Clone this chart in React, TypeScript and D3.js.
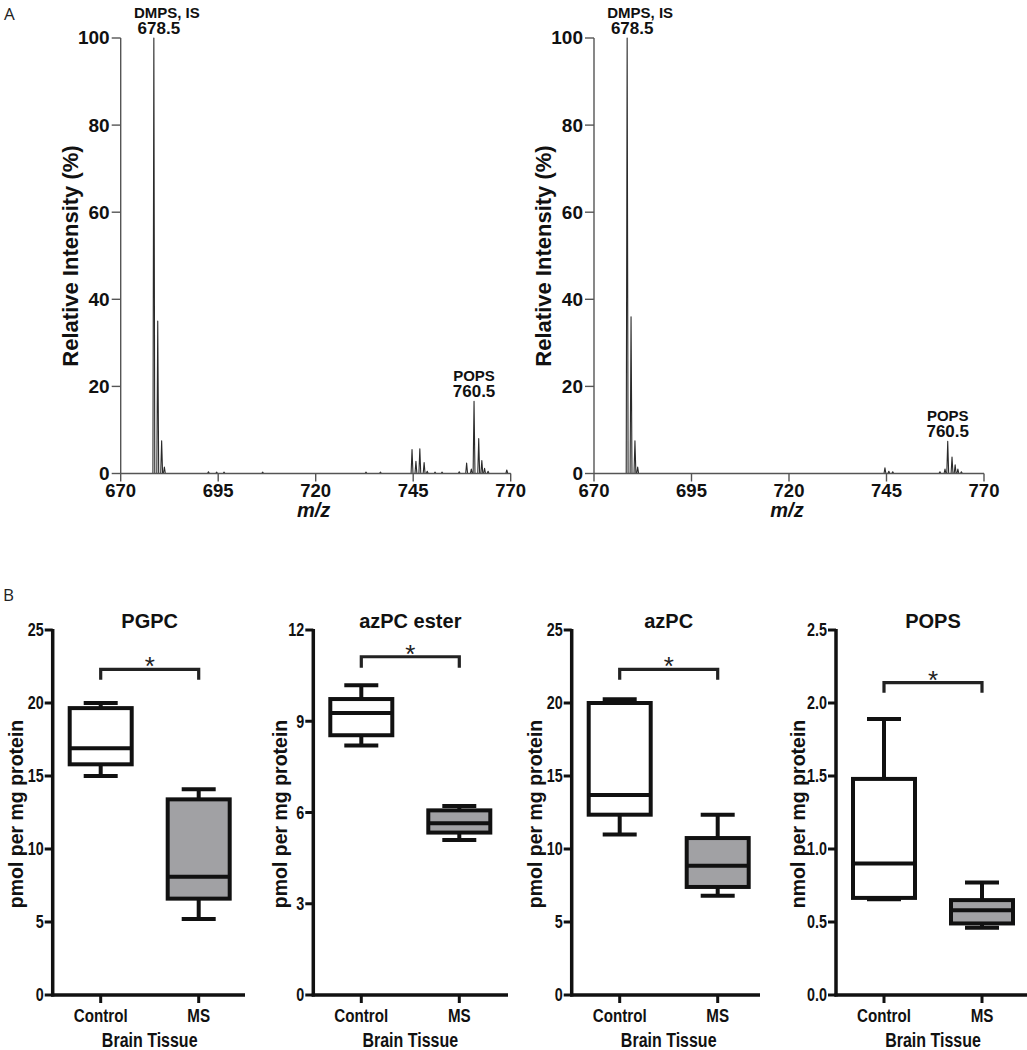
import React from "react";
import * as d3 from "d3";

// ---------- Panel A: mass spectra ----------
const specTicksX = [670, 695, 720, 745, 770];
const specTicksY = [0, 20, 40, 60, 80, 100];

// [m/z, relative intensity %]
const spectrumLeft: [number, number][] = [
  [678.5, 100], [679.5, 35], [680.5, 7.5], [681.2, 1.5],
  [692.5, 0.4], [694.6, 0.3], [696.5, 0.3], [706.4, 0.3],
  [732.9, 0.3], [736.6, 0.3],
  [744.7, 5.5], [745.7, 2.8], [746.7, 5.7], [747.8, 2.5], [748.6, 0.5],
  [750.6, 0.3], [752.4, 0.3], [756.8, 0.4],
  [758.7, 2.4], [759.9, 1], [760.6, 16.6], [761.8, 8], [762.6, 3], [763.3, 1.2], [764.2, 0.5],
  [769.0, 0.8],
];
const spectrumRight: [number, number][] = [
  [678.5, 100], [679.5, 36], [680.5, 7.5], [681.2, 1.5],
  [744.6, 1.3], [745.6, 0.5], [746.6, 0.4],
  [758.7, 0.4], [760.0, 1], [760.7, 7.4], [761.8, 3.8], [762.6, 2], [763.3, 1], [764.2, 0.4],
];
const peakLabelsLeft = [
  { mz: 678.5, name: "DMPS, IS", value: "678.5" },
  { mz: 760.6, name: "POPS", value: "760.5" },
];
const peakLabelsRight = [
  { mz: 678.5, name: "DMPS, IS", value: "678.5" },
  { mz: 760.7, name: "POPS", value: "760.5" },
];

// ---------- Panel B: box plots ----------
const groups = ["Control", "MS"];
const pgpcStats = [
  { min: 15.0, q1: 15.8, median: 16.9, q3: 19.65, max: 20.0 },
  { min: 5.2, q1: 6.6, median: 8.1, q3: 13.4, max: 14.1 },
];
const azpcEsterStats = [
  { min: 8.2, q1: 8.54, median: 9.27, q3: 9.73, max: 10.18 },
  { min: 5.1, q1: 5.34, median: 5.65, q3: 6.07, max: 6.21 },
];
const azpcStats = [
  { min: 11.0, q1: 12.35, median: 13.7, q3: 20.0, max: 20.25 },
  { min: 6.8, q1: 7.4, median: 8.85, q3: 10.75, max: 12.35 },
];
const popsStats = [
  { min: 0.655, q1: 0.665, median: 0.9, q3: 1.48, max: 1.89 },
  { min: 0.46, q1: 0.49, median: 0.58, q3: 0.65, max: 0.77 },
];
const panelTitles = ["PGPC", "azPC ester", "azPC", "POPS"];
const panelYMax = [25, 12, 25, 2.5];
const panelTicks = [
  [0, 5, 10, 15, 20, 25],
  [0, 3, 6, 9, 12],
  [0, 5, 10, 15, 20, 25],
  [0, 0.5, 1.0, 1.5, 2.0, 2.5],
];
const panelYLabels = ["pmol per mg protein", "pmol per mg protein", "pmol per mg protein", "nmol per mg protein"];
// significance bracket [top, leg end] in data units
const panelBrackets = [
  [22.3, 21.6],
  [11.12, 10.76],
  [22.3, 21.6],
  [2.14, 2.07],
];
const xAxisTitle = "Brain Tissue";

const SPEC_FONT = "'Liberation Sans', Arial, Helvetica, sans-serif";
const NARROW = 0.82;

function NText({ x, y, anchor, size, children, dy }: { x: number; y: number; anchor: string; size: number; children: React.ReactNode; dy?: string }) {
  return (
    <text
      transform={`translate(${x},${y}) scale(${NARROW},1)`}
      dy={dy}
      textAnchor={anchor}
      fontFamily={SPEC_FONT}
      fontWeight="bold"
      fontSize={size}
      fill="#111"
    >
      {children}
    </text>
  );
}

function Spectrum({ x0, x1, data, labels }: { x0: number; x1: number; data: [number, number][]; labels: { mz: number; name: string; value: string }[] }) {
  const x = d3.scaleLinear().domain([670, 770]).range([x0, x1]);
  const y = d3.scaleLinear().domain([0, 100]).range([473.5, 38]);
  const pts: [number, number][] = [[670, 0]];
  const w = 0.24;
  [...data].sort((a, b) => a[0] - b[0]).forEach(([mz, h]) => {
    pts.push([mz - w, 0], [mz, h], [mz + w, 0]);
  });
  pts.push([770, 0]);
  const line = d3.line<[number, number]>().x((d) => x(d[0])).y((d) => y(d[1]));
  const axisColor = "#555";
  return (
    <g>
      <path d={line(pts) || ""} fill="none" stroke="#2a2a2a" strokeWidth={1.1} strokeLinejoin="round" />
      <line x1={x0} x2={x0} y1={y(0)} y2={y(100)} stroke={axisColor} strokeWidth={1.4} />
      <line x1={x0} x2={x1} y1={y(0)} y2={y(0)} stroke={axisColor} strokeWidth={1.4} />
      {specTicksY.map((t) => (
        <g key={"y" + t}>
          <line x1={x0 - 9} x2={x0} y1={y(t)} y2={y(t)} stroke={axisColor} strokeWidth={1.4} />
          <text x={x0 - 11} y={y(t)} dy="0.34em" textAnchor="end" fontFamily={SPEC_FONT} fontWeight="bold" fontSize={19} fill="#111">
            {t}
          </text>
        </g>
      ))}
      {specTicksX.map((t) => (
        <g key={"x" + t}>
          <line x1={x(t)} x2={x(t)} y1={y(0)} y2={y(0) + 8} stroke={axisColor} strokeWidth={1.4} />
          <text x={x(t)} y={497} textAnchor="middle" fontFamily={SPEC_FONT} fontWeight="bold" fontSize={18.5} fill="#111">
            {t}
          </text>
        </g>
      ))}
      <text x={(x0 + x1) / 2 - 2} y={517} textAnchor="middle" fontFamily={SPEC_FONT} fontWeight="bold" fontStyle="italic" fontSize={20} fill="#111">
        m/z
      </text>
      <text transform={`translate(${x0 - 43},${256}) rotate(-90)`} textAnchor="middle" fontFamily={SPEC_FONT} fontWeight="bold" fontSize={22} fill="#111">
        Relative Intensity (%)
      </text>
      {labels.map((l, i) => {
        const top = y(data.find((d) => d[0] === l.mz)?.[1] ?? 0);
        const isIS = i === 0;
        return (
          <g key={l.name} fontFamily={SPEC_FONT} fontWeight="bold" fill="#111">
            <text x={x(l.mz) + (isIS ? 13 : 0)} y={top - 20} textAnchor="middle" fontSize={15}>
              {l.name}
            </text>
            <text x={x(l.mz) + (isIS ? 5 : 0)} y={top - 4} textAnchor="middle" fontSize={17}>
              {l.value}
            </text>
          </g>
        );
      })}
    </g>
  );
}

type Stat = { min: number; q1: number; median: number; q3: number; max: number };

function BoxPanel({ axisX, xEnd, labelX, i, stats }: { axisX: number; xEnd: number; labelX: number; i: number; stats: Stat[] }) {
  const y = d3.scaleLinear().domain([0, panelYMax[i]]).range([995, 630]);
  const x = d3.scalePoint<string>().domain(groups).range([axisX + 48, axisX + 146]);
  const fmt = panelYMax[i] < 5 ? d3.format(".1f") : d3.format("d");
  const boxW = 62;
  const capW = 34;
  const sw = 4;
  const col = "#111";
  const fills = ["#ffffff", "#a1a1a4"];
  const [bTop, bLeg] = panelBrackets[i];
  const cx0 = x("Control")!;
  const cx1 = x("MS")!;
  const mid = (cx0 + cx1) / 2;
  return (
    <g>
      <text x={mid} y={628} textAnchor="middle" fontFamily={SPEC_FONT} fontWeight="bold" fontSize={20} fill="#111">
        {panelTitles[i]}
      </text>
      {/* bracket */}
      <path d={`M${cx0},${y(bLeg)}V${y(bTop)}H${cx1}V${y(bLeg)}`} fill="none" stroke="#222" strokeWidth={3.2} />
      <text x={mid} y={y(bTop) + 6} textAnchor="middle" fontFamily={SPEC_FONT} fontSize={26} fill="#222">
        *
      </text>
      {stats.map((s, k) => {
        const cx = x(groups[k])!;
        return (
          <g key={k} stroke={col} strokeWidth={sw}>
            <line x1={cx} x2={cx} y1={y(s.max)} y2={y(s.q3)} />
            <line x1={cx} x2={cx} y1={y(s.q1)} y2={y(s.min)} />
            <line x1={cx - capW / 2} x2={cx + capW / 2} y1={y(s.max)} y2={y(s.max)} />
            <line x1={cx - capW / 2} x2={cx + capW / 2} y1={y(s.min)} y2={y(s.min)} />
            <rect x={cx - boxW / 2} y={y(s.q3)} width={boxW} height={y(s.q1) - y(s.q3)} fill={fills[k]} />
            <line x1={cx - boxW / 2} x2={cx + boxW / 2} y1={y(s.median)} y2={y(s.median)} />
          </g>
        );
      })}
      {/* axes */}
      <line x1={axisX} x2={axisX} y1={y(0) + 1.5} y2={y(panelYMax[i]) - 1} stroke={col} strokeWidth={3.5} />
      <line x1={axisX - 1.5} x2={xEnd} y1={y(0)} y2={y(0)} stroke={col} strokeWidth={3.5} />
      {panelTicks[i].map((t) => (
        <g key={t}>
          <line x1={axisX - 8} x2={axisX} y1={y(t)} y2={y(t)} stroke={col} strokeWidth={3} />
          <NText x={axisX - 9} y={y(t)} dy="0.36em" anchor="end" size={17.5}>
            {fmt(t)}
          </NText>
        </g>
      ))}
      {groups.map((g) => (
        <g key={g}>
          <line x1={x(g)} x2={x(g)} y1={y(0)} y2={y(0) + 8} stroke={col} strokeWidth={3} />
          <NText x={x(g)!} y={1021.5} anchor="middle" size={18.5}>
            {g}
          </NText>
        </g>
      ))}
      <NText x={mid} y={1047} anchor="middle" size={19.5}>
        {xAxisTitle}
      </NText>
      <text transform={`translate(${labelX + 4.5},${814}) rotate(-90)`} textAnchor="middle" fontFamily={SPEC_FONT} fontWeight="bold" fontSize={19.5} fill="#111">
        {panelYLabels[i]}
      </text>
    </g>
  );
}

export default function App() {
  const allStats = [pgpcStats, azpcEsterStats, azpcStats, popsStats];
  const axisXs = [52.7, 313.3, 571.7, 836];
  const xEnds = [245, 508, 760, 1027];
  const labelXs = [18.5, 282, 537, 800];
  return (
    <svg width={1027} height={1050} style={{ position: "absolute", left: 0, top: 0, background: "#fff" }} xmlns="http://www.w3.org/2000/svg">
      <rect width={1027} height={1050} fill="#fff" />
      <text x={4} y={20} fontFamily="'Open Sans', 'Noto Sans', sans-serif" fontSize={17} fill="#222">A</text>
      <text x={3} y={601} fontFamily="'Open Sans', 'Noto Sans', sans-serif" fontSize={17} fill="#222">B</text>
      <Spectrum x0={120.7} x1={510.7} data={spectrumLeft} labels={peakLabelsLeft} />
      <Spectrum x0={594} x1={984} data={spectrumRight} labels={peakLabelsRight} />
      {allStats.map((s, i) => (
        <BoxPanel key={i} i={i} stats={s} axisX={axisXs[i]} xEnd={xEnds[i]} labelX={labelXs[i]} />
      ))}
    </svg>
  );
}
